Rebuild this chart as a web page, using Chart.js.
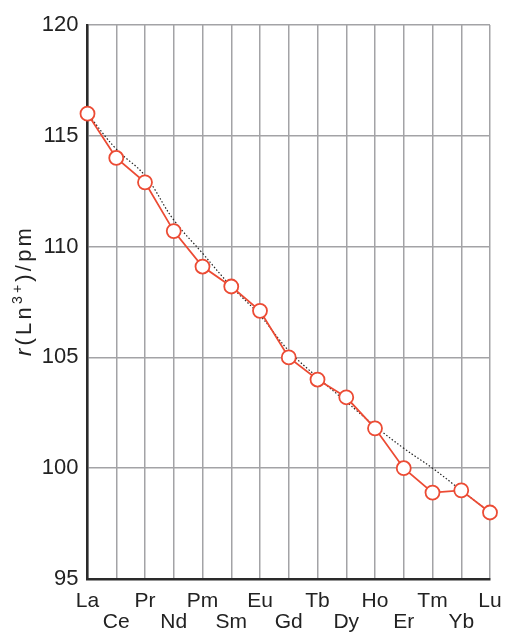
<!DOCTYPE html>
<html>
<head>
<meta charset="utf-8">
<script src="https://cdn.jsdelivr.net/npm/chart.js@4"></script>
<style>
  html, body { margin: 0; padding: 0; background: #fff; }
  #wrap { width: 506px; height: 633px; }
</style>
</head>
<body>
<div id="wrap"><canvas id="chart" width="506" height="633"></canvas></div>
<script>
const elements = ["La", "Ce", "Pr", "Nd", "Pm", "Sm", "Eu", "Gd", "Tb", "Dy", "Ho", "Er", "Tm", "Yb", "Lu"];
// measured ionic radii, pm
const radii = [116.0, 114.0, 112.9, 110.7, 109.1, 108.2, 107.1, 105.0, 104.0, 103.2, 101.8, 100.0, 98.9, 99.0, 98.0];
// smooth trend line through the series
const trend = [116.0, 114.4, 113.2, 111.2, 109.7, 108.2, 106.9, 105.3, 104.1, 103.0, 101.9, 100.9, 100.0, 99.0, 98.0];
const yTicks = [95, 100, 105, 110, 115, 120];

const FONT = '"Liberation Sans", Arial, sans-serif';
const red = "#ec4b34";

// odd elements go on a second row below the axis
const xLabels = elements.map((e, i) => (i % 2 ? ["", e] : [e]));

// rotated axis title with italic r and superscript charge
const yTitle = {
  id: "yTitle",
  afterDraw(chart) {
    const ctx = chart.ctx;
    const size = 22;
    const gap = 3.2;
    const sup = "14px " + FONT;
    const reg = size + "px " + FONT;
    const parts = [
      { t: "r", f: "italic " + reg, dy: 0 },
      { t: "(", f: reg, dy: 0 },
      { t: "L", f: reg, dy: 0 },
      { t: "n", f: reg, dy: 0 },
      { t: "3", f: sup, dy: -9 },
      { t: "+", f: sup, dy: -9 },
      { t: ")", f: reg, dy: 0 },
      { t: "/", f: reg, dy: 0 },
      { t: "p", f: reg, dy: 0 },
      { t: "m", f: reg, dy: 0 }
    ];
    let total = 0;
    parts.forEach(p => { ctx.font = p.f; p.w = ctx.measureText(p.t).width; total += p.w + gap; });
    total -= gap;
    ctx.save();
    ctx.translate(31, 292);
    ctx.rotate(-Math.PI / 2);
    ctx.fillStyle = "#222";
    ctx.textBaseline = "alphabetic";
    let x = -total / 2;
    parts.forEach(p => {
      ctx.font = p.f;
      ctx.fillText(p.t, x, p.dy);
      x += p.w + gap;
    });
    ctx.restore();
  }
};

new Chart(document.getElementById("chart"), {
  type: "line",
  data: {
    labels: xLabels,
    datasets: [
      {
        data: radii,
        borderColor: red,
        borderWidth: 1.8,
        backgroundColor: "#fff",
        pointRadius: 7,
        pointBorderWidth: 1.8,
        pointBorderColor: red,
        pointBackgroundColor: "#fff",
        tension: 0
      },
      {
        data: trend,
        borderColor: "#222",
        borderWidth: 1.2,
        borderDash: [1.5, 2],
        pointRadius: 0,
        tension: 0.4
      }
    ]
  },
  options: {
    responsive: false,
    animation: false,
    events: [],
    layout: { padding: { top: 25, right: 16, left: 0, bottom: 0 } },
    plugins: { legend: { display: false }, tooltip: { enabled: false } },
    scales: {
      x: {
        offset: false,
        afterFit(scale) {
          scale.height = 54;
          scale.paddingLeft = 0;
          scale.paddingRight = 0;
        },
        grid: { color: "#a3a3a6", lineWidth: 1.5, drawTicks: false },
        border: { color: "#2a2a2a", width: 2.5 },
        ticks: {
          autoSkip: false,
          maxRotation: 0,
          padding: 12,
          color: "#222",
          font: { family: FONT, size: 21, lineHeight: 1.0 }
        }
      },
      y: {
        min: 95,
        max: 120,
        afterFit(scale) { scale.width = 87.5; },
        afterBuildTicks(scale) { scale.ticks = yTicks.map(v => ({ value: v })); },
        grid: { color: "#a3a3a6", lineWidth: 1.5, drawTicks: false },
        border: { color: "#2a2a2a", width: 2.5 },
        ticks: {
          padding: 9,
          color: "#222",
          font: { family: FONT, size: 22 }
        }
      }
    }
  },
  plugins: [yTitle]
});
</script>
</body>
</html>
